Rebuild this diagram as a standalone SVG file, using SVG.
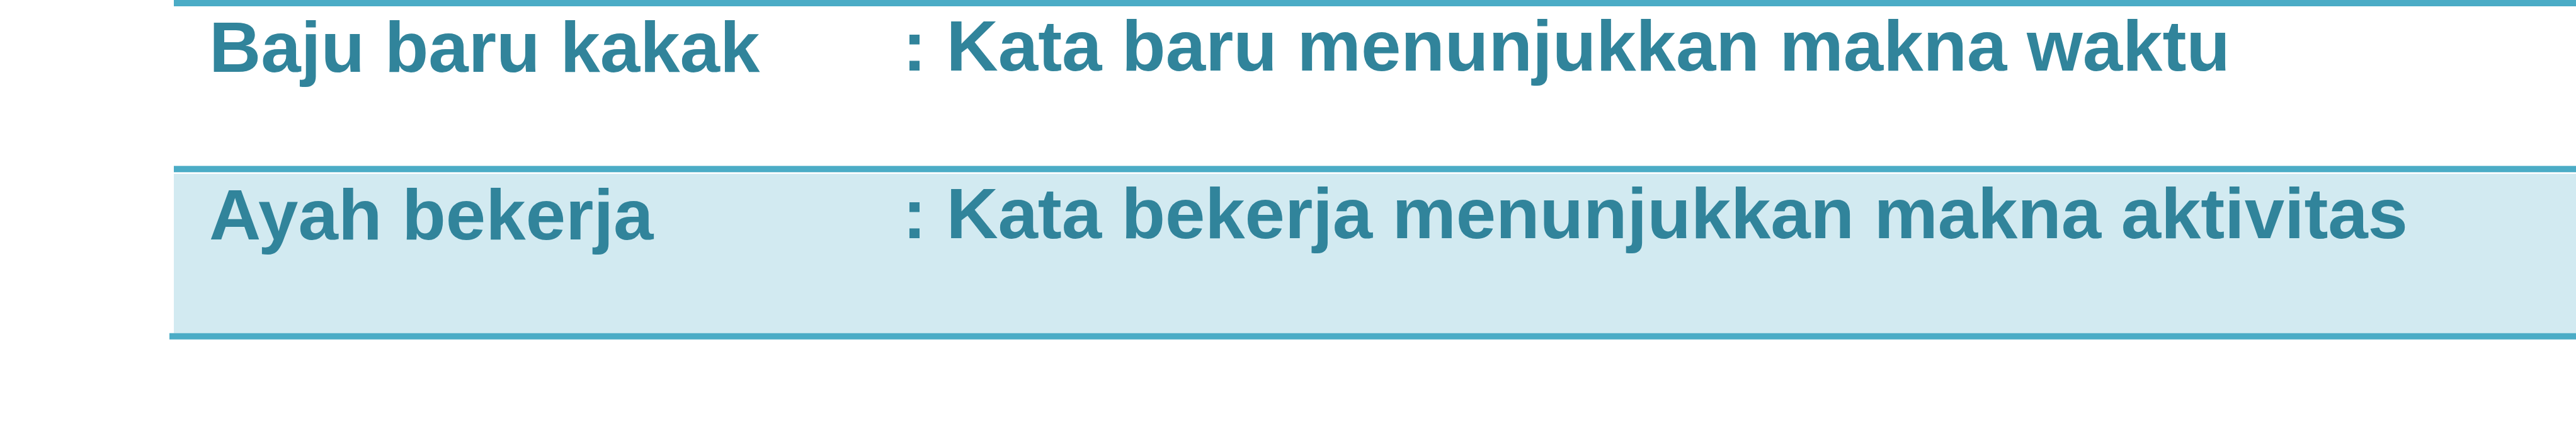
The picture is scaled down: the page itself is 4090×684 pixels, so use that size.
<svg xmlns="http://www.w3.org/2000/svg" width="4090" height="684" viewBox="0 0 4090 684">
  <style>
    .t { font-family: "Liberation Sans", Arial, sans-serif; font-weight: bold; font-size: 114px; fill: #31849B; }
    .rule { fill: #4BACC6; }
    .band { fill: #D2EAF1; }
  </style>
  <rect x="0" y="0" width="4090" height="684" fill="#FFFFFF"/>
  <g id="row1">
    <rect class="rule" x="276" y="0" width="3814" height="10"/>
    <text class="t" x="332" y="114">Baju baru kakak</text>
    <text class="t" x="1433" y="112" textLength="2108" lengthAdjust="spacing">: Kata baru menunjukkan makna waktu</text>
  </g>
  <g id="row2">
    <rect class="rule" x="276" y="263.3" width="3814" height="10"/>
    <rect class="band" x="276" y="276" width="3814" height="252.7"/>
    <text class="t" x="332" y="380">Ayah bekerja</text>
    <text class="t" x="1433" y="378" textLength="2390" lengthAdjust="spacing">: Kata bekerja menunjukkan makna aktivitas</text>
  </g>
  <g id="bottom-rule">
    <rect class="rule" x="269" y="528.7" width="3821" height="10"/>
  </g>
</svg>
